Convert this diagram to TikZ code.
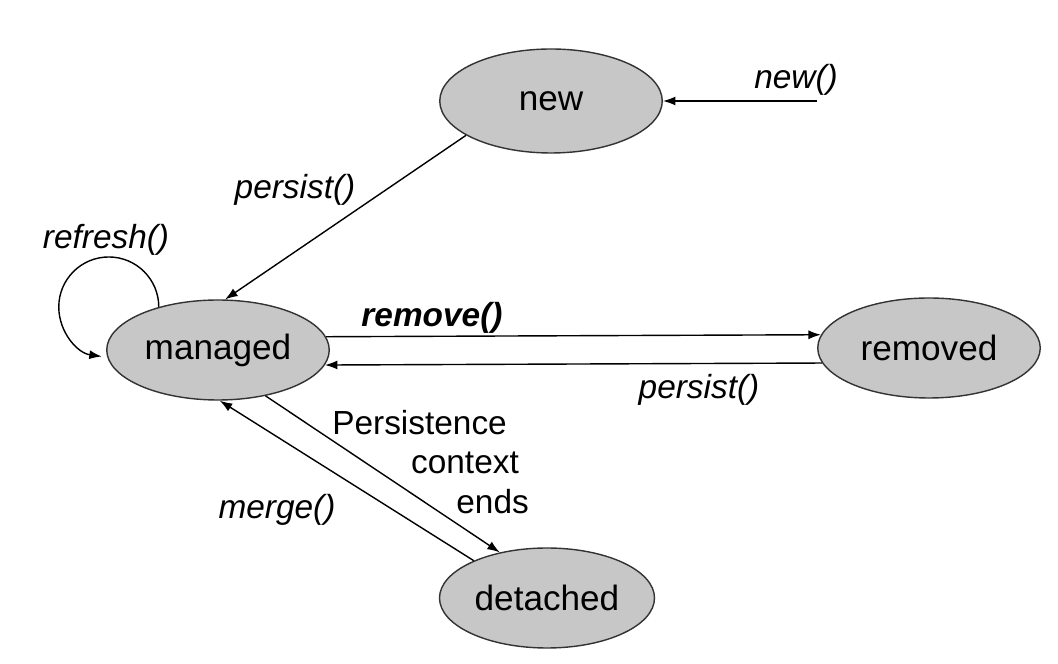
\documentclass[tikz,border=0pt]{standalone}
\usepackage{fontspec}
\setmainfont{Liberation Sans}
\usetikzlibrary{shapes.geometric,arrows.meta}
\definecolor{stategray}{gray}{0.78}
\tikzset{
  state/.style={ellipse, draw=black!80, line width=0.8pt, fill=stategray,
    minimum width=4.45cm, minimum height=2.0cm, inner sep=0pt,
    font=\fontsize{20}{24}\selectfont},
  call/.style={font=\fontsize{19}{23}\selectfont\itshape},
  trans/.style={line width=0.8pt, -{Latex[length=0.25cm,width=0.18cm]}}
}
\begin{document}
\begin{tikzpicture}
\useasboundingbox (0,0) rectangle (21.16,13.28); %page frame

  \node[state, minimum height=2.08cm] (new) at (11.02,11.26) {new};
  \node[state] (managed) at (4.36,6.28) {managed};
  \node[state] (removed) at (18.58,6.32) {removed};
  \node[state, minimum width=4.3cm] (detached) at (10.94,1.32) {detached};

  \coordinate (start) at (16.34,11.26);
  \draw[trans] (start) -- (new.east);
  \node[call] (newlbl) at (15.92,11.68) {new()};

  \draw[trans] (new.202) -- (managed.82);
  \node[call] (persistlbl) at (5.9,9.48) {persist()};

  \draw[trans] (managed.144) arc[start angle=0, end angle=262, radius=1.0];
  \node[call] (refreshlbl) at (2.12,8.48) {refresh()};

  \draw[trans] (managed.7) -- (removed.173);
  \node[call, font=\fontsize{19}{23}\selectfont\bfseries\itshape] (removelbl) at (8.64,6.92) {remove()};
  \draw[trans] (removed.188) -- (managed.-8);
  \node[call] (repersistlbl) at (13.98,5.48) {persist()};

  \draw[trans] (managed.-44) -- (detached.136);
  \node[align=right, anchor=east, font=\fontsize{19}{22.5}\selectfont] (endslbl) at (10.7,4.04)
    {Persistence\hbox to 0.44cm{}\\context\hbox to 0.2cm{}\\ends};
  \draw[trans] (detached.153) -- (managed.-88);
  \node[call] (mergelbl) at (5.54,3.08) {merge()};
\end{tikzpicture}
\end{document}
